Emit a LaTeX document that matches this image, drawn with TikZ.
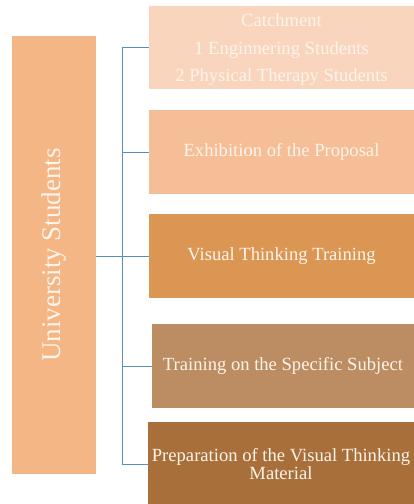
\documentclass[tikz,border=0pt]{standalone}
\usepackage{fontspec}
\setmainfont{Liberation Serif}
\usepackage{tikz}
\definecolor{univcol}{HTML}{F3B684}
\definecolor{catchcol}{HTML}{F8D5BC}
\definecolor{exhibcol}{HTML}{F6BE96}
\definecolor{visualcol}{HTML}{DB9653}
\definecolor{subjcol}{HTML}{BC8C62}
\definecolor{prepcol}{HTML}{A86F3A}
\definecolor{linkcol}{HTML}{5A8DC0}
\definecolor{txtcol}{HTML}{FDF4EC}

\begin{document}
\begin{tikzpicture}[
    x=1pt, y=-1pt,
    stage/.style={rectangle, minimum width=265pt, minimum height=84pt,
      inner sep=0pt, text=txtcol, align=center,
      font=\fontsize{18.6}{18}\selectfont},
    link/.style={draw=linkcol, line width=0.8pt}
    ]
    \useasboundingbox (0,0) rectangle (414,504);
    \node[fill=univcol, minimum width=84pt, minimum height=438pt, inner sep=0pt]
      (univ) at (54,255) {};
    \node[rotate=90, text=txtcol, font=\fontsize{27}{28}\selectfont] at (univ) {University Students};
    \node[stage, fill=catchcol, minimum height=83pt,
      font=\fontsize{18.6}{27.5}\selectfont] (catch) at (281.5,47.5)
      {\rule{0pt}{18pt}Catchment\\1 Enginnering Students\\2 Physical Therapy Students};
    \node[stage, fill=exhibcol] (exhib) at (281.5,152) {Exhibition of the Proposal};
    \node[stage, fill=visualcol] (visual) at (281.5,256) {Visual Thinking Training};
    \node[stage, fill=subjcol, minimum width=262pt] (subj) at (283,366)
      {Training on the Specific Subject};
    \node[stage, fill=prepcol, minimum width=266pt] (prep) at (281,464)
      {Preparation of the Visual Thinking\\Material};
    % trunk
    \coordinate (trunk) at (122,256);
    \draw[link] (univ.east |- trunk) -- (trunk);
    \draw[link] (trunk) |- (catch.west);
    \draw[link] (trunk) |- (exhib.west);
    \draw[link] (trunk) -- (visual.west);
    \draw[link] (trunk) |- (subj.west);
    \draw[link] (trunk) |- (prep.west);
  \end{tikzpicture}
\end{document}
